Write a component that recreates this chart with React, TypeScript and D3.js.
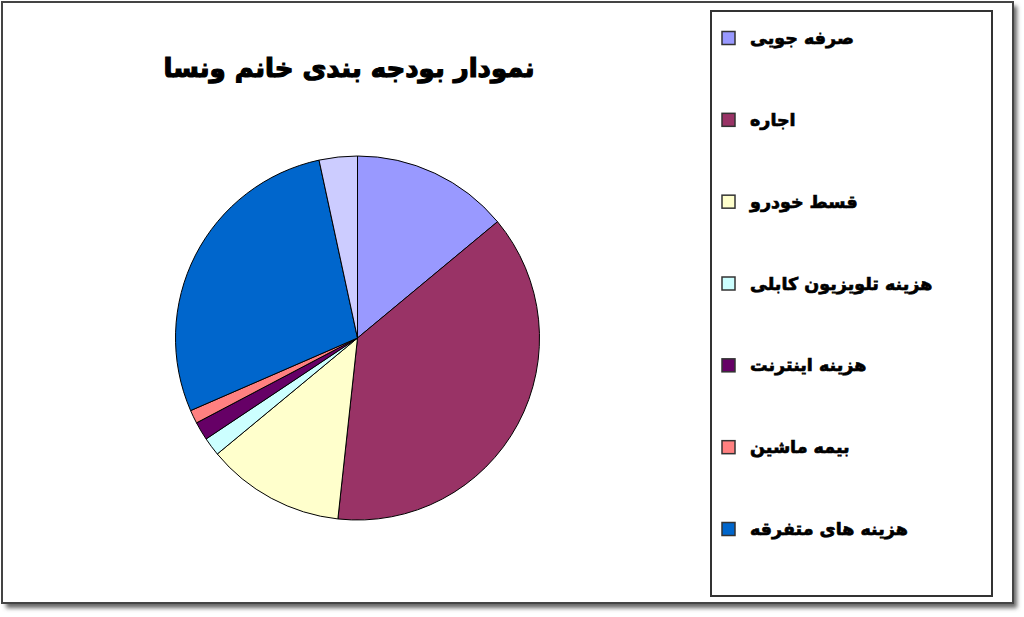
import React from "react";
import * as d3 from "d3";

const categories = [
  "صرفه جویی",
  "اجاره",
  "قسط خودرو",
  "هزینه تلویزیون کابلی",
  "هزینه اینترنت",
  "بیمه ماشین",
  "هزینه های متفرقه",
  "",
];
const values = [13.97, 37.75, 12.28, 1.64, 1.64, 1.19, 28.14, 3.39];
const colors = ["#9999FF", "#993366", "#FFFFCC", "#CCFFFF", "#660066", "#FF8080", "#0066CC", "#CCCCFF"];
const legendCount = 7;
const title = "نمودار بودجه بندی خانم ونسا";

const W = 1024;
const H = 617;
const FONT = "'DejaVu Sans', sans-serif";

export default function App() {
  const cx = 357.5;
  const cy = 338;
  const r = 182;
  const pie = d3.pie<number>().sort(null).value((d) => d)(values);
  const arc = d3.arc<d3.PieArcDatum<number>>().innerRadius(0).outerRadius(r);

  const legendY = d3.scaleLinear().domain([0, legendCount - 1]).range([38, 529]);

  return (
    <svg
      width={W}
      height={H}
      style={{ position: "absolute", left: 0, top: 0, display: "block", background: "#fff" }}
    >
      <defs>
        <filter id="sh" x="-5%" y="-5%" width="110%" height="110%">
          <feGaussianBlur stdDeviation="2" />
        </filter>
      </defs>
      <rect x={6} y={6} width={1011} height={602} fill="#666" filter="url(#sh)" />
      <rect x={2} y={2} width={1011} height={601} fill="#fff" stroke="#444" strokeWidth={2} />

      <text
        x={349}
        y={77}
        textAnchor="middle"
        fontFamily={FONT}
        fontWeight="bold"
        fontSize={26}
        stroke="#000"
        strokeWidth={1.2}
        fill="#000"
      >
        {title}
      </text>

      <g transform={`translate(${cx},${cy})`}>
        {pie.map((p, i) => (
          <path key={i} d={arc(p) || ""} fill={colors[i]} stroke="#000" strokeWidth={1} />
        ))}
      </g>

      <rect x={711} y={11} width={281} height={585} fill="#fff" stroke="#333" strokeWidth={2} />
      {categories.slice(0, legendCount).map((c, i) => {
        const y = legendY(i);
        return (
          <g key={i}>
            <rect x={722} y={y - 6.5} width={13} height={13} fill={colors[i]} stroke="#333" strokeWidth={1.5} />
            <text
              x={750}
              y={y + 6}
              fontFamily={FONT}
              fontWeight="bold"
              fontSize={17.5}
              stroke="#000"
              strokeWidth={0.7}
              fill="#000"
            >
              {c}
            </text>
          </g>
        );
      })}
    </svg>
  );
}
